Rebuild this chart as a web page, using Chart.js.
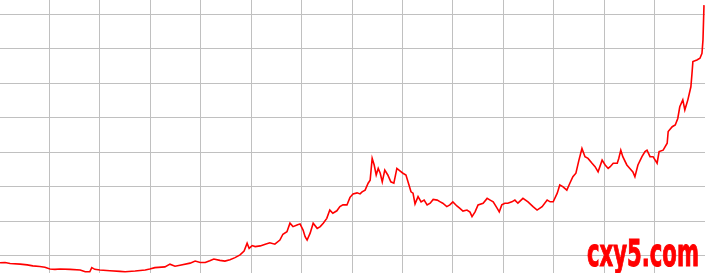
<!DOCTYPE html>
<html>
<head>
<meta charset="utf-8">
<script src="https://cdn.jsdelivr.net/npm/chart.js@4.4.1/dist/chart.umd.min.js"></script>
<style>
    html, body { margin: 0; padding: 0; background: #fff; }
    body { width: 705px; height: 273px; position: relative; overflow: hidden; }
    #chartWrap { position: absolute; left: -1px; top: -20px; width: 706px; height: 310px; }
    #mark {
        position: absolute; left: 587px; top: 235px;
        font-family: 'DejaVu Sans Condensed', 'DejaVu Sans', sans-serif;
        font-weight: 700; font-size: 34px; line-height: 1;
        color: #ff0000; -webkit-text-stroke: 0.9px #ff0000;
        white-space: nowrap; transform-origin: 0 0;
    }
</style>
</head>
<body>
<div id="chartWrap"><canvas id="chart"></canvas></div>
<div id="mark">cxy5.com</div>
<script>
// ── Data (x in grid columns, y in grid units of 10) ───────────────────────────

const xValues = [
    0.02, 0.12, 0.22, 0.42, 0.56, 0.67, 0.81, 0.91, 1.01, 1.11, 1.21, 1.41, 1.61, 1.71, 1.80, 1.84, 1.90,
    2.00, 2.20, 2.40, 2.50, 2.70, 2.90, 2.99, 3.09, 3.29, 3.39, 3.49, 3.59, 3.79, 3.89, 3.99, 4.09, 4.18,
    4.26, 4.38, 4.48, 4.58, 4.68, 4.78, 4.86, 4.92, 4.96, 5.02, 5.08, 5.18, 5.28, 5.37, 5.47, 5.57, 5.63,
    5.71, 5.77, 5.83, 5.91, 5.97, 6.03, 6.07, 6.11, 6.17, 6.23, 6.31, 6.37, 6.43, 6.50, 6.56, 6.62, 6.70,
    6.76, 6.82, 6.90, 6.96, 7.02, 7.10, 7.16, 7.20, 7.26, 7.32, 7.36, 7.40, 7.44, 7.48, 7.52, 7.56, 7.60,
    7.65, 7.71, 7.77, 7.83, 7.89, 7.95, 8.01, 8.07, 8.13, 8.17, 8.21, 8.25, 8.31, 8.37, 8.43, 8.49, 8.55,
    8.61, 8.69, 8.75, 8.80, 8.88, 8.94, 9.00, 9.08, 9.14, 9.20, 9.28, 9.34, 9.38, 9.44, 9.50, 9.60, 9.68,
    9.74, 9.80, 9.88, 9.92, 9.97, 10.03, 10.09, 10.17, 10.23, 10.29, 10.39, 10.49, 10.59, 10.67, 10.77,
    10.87, 10.93, 10.99, 11.07, 11.12, 11.18, 11.26, 11.32, 11.38, 11.44, 11.50, 11.56, 11.62, 11.68,
    11.76, 11.82, 11.88, 11.96, 12.02, 12.08, 12.12, 12.18, 12.26, 12.29, 12.33, 12.37, 12.45, 12.51,
    12.57, 12.61, 12.67, 12.75, 12.81, 12.85, 12.91, 12.97, 13.05, 13.09, 13.17, 13.25, 13.27, 13.35,
    13.41, 13.46, 13.50, 13.56, 13.60, 13.66, 13.72, 13.74, 13.76, 13.84, 13.90, 13.94, 13.96, 13.98,
];

const yValues = [
    7.9, 8.0, 7.7, 7.5, 7.3, 7.0, 6.8, 6.6, 6.1, 6.0, 6.1, 6.0, 5.8, 5.3, 5.3, 6.5, 6.0,
    5.8, 5.6, 5.4, 5.3, 5.5, 5.8, 6.1, 6.5, 6.7, 7.5, 6.9, 7.2, 7.8, 8.4, 8.0, 8.0, 8.5,
    9.0, 8.6, 8.4, 8.8, 9.4, 10.2, 11.3, 13.6, 12.1, 12.9, 12.6, 12.8, 13.3, 13.7, 13.3, 14.5, 16.2,
    16.9, 19.4, 18.4, 18.9, 19.2, 17.4, 15.5, 14.5, 16.5, 19.4, 17.9, 18.4, 19.4, 20.8, 23.2, 22.3, 23.0,
    24.2, 24.7, 24.7, 26.9, 27.9, 28.2, 27.9, 28.5, 29.0, 31.0, 31.9, 38.2, 36.3, 33.4, 35.3, 33.9, 31.4,
    34.8, 33.4, 31.4, 31.0, 35.3, 34.6, 33.9, 33.4, 30.5, 28.5, 28.1, 25.0, 27.1, 25.6, 26.1, 24.7, 25.2,
    26.3, 26.1, 25.6, 25.2, 24.2, 24.7, 25.6, 24.4, 23.7, 22.9, 23.2, 22.6, 21.3, 22.7, 24.7, 25.2, 26.6,
    26.1, 25.6, 23.7, 22.7, 24.7, 25.2, 25.2, 25.6, 26.1, 25.2, 26.6, 25.6, 24.2, 23.2, 24.2,
    26.1, 25.6, 25.6, 28.1, 30.5, 30.0, 29.0, 31.0, 32.9, 33.9, 37.7, 41.1, 38.7, 38.2,
    36.8, 35.8, 34.3, 37.7, 36.3, 35.3, 35.8, 36.8, 36.8, 38.2, 40.6, 38.7, 36.3, 35.3,
    34.3, 32.9, 36.3, 38.7, 40.2, 40.6, 38.7, 38.7, 36.8, 40.2, 40.6, 42.6, 46.0, 47.4,
    47.9, 49.8, 53.2, 55.2, 52.3, 55.2, 59.0, 62.5, 66.3, 66.8, 67.3, 68.7, 72.6, 82.7,
];

const xRange = [0, 14];
const yRange = [0, 90];

// ── Chart ─────────────────────────────────────────────────────────────────────

const gridStyle = { color: '#c0c0c0', lineWidth: 1, drawTicks: false };

new Chart(document.getElementById('chart'), {
    type: 'line',
    data: {
        datasets: [{
            data: xValues.map((x, i) => ({ x, y: yValues[i] })),
            borderColor: '#ff0000',
            borderWidth: 1.6,
            pointRadius: 0,
            tension: 0,
            fill: false,
        }],
    },
    options: {
        responsive: true,
        maintainAspectRatio: false,
        animation: false,
        layout: { padding: 0 },
        plugins: { legend: { display: false }, tooltip: { enabled: false } },
        scales: {
            x: {
                type: 'linear',
                min: xRange[0],
                max: xRange[1],
                ticks: { display: false, stepSize: 1 },
                grid: gridStyle,
                border: { display: false },
            },
            y: {
                min: yRange[0],
                max: yRange[1],
                ticks: { display: false, stepSize: 10 },
                grid: gridStyle,
                border: { display: false },
            },
        },
    },
});

// squeeze the watermark to its width in the picture
const mark = document.getElementById('mark');
const markWidth = mark.getBoundingClientRect().width;
mark.style.transform = `scale(${112 / markWidth}, 1.08)`;
</script>
</body>
</html>
